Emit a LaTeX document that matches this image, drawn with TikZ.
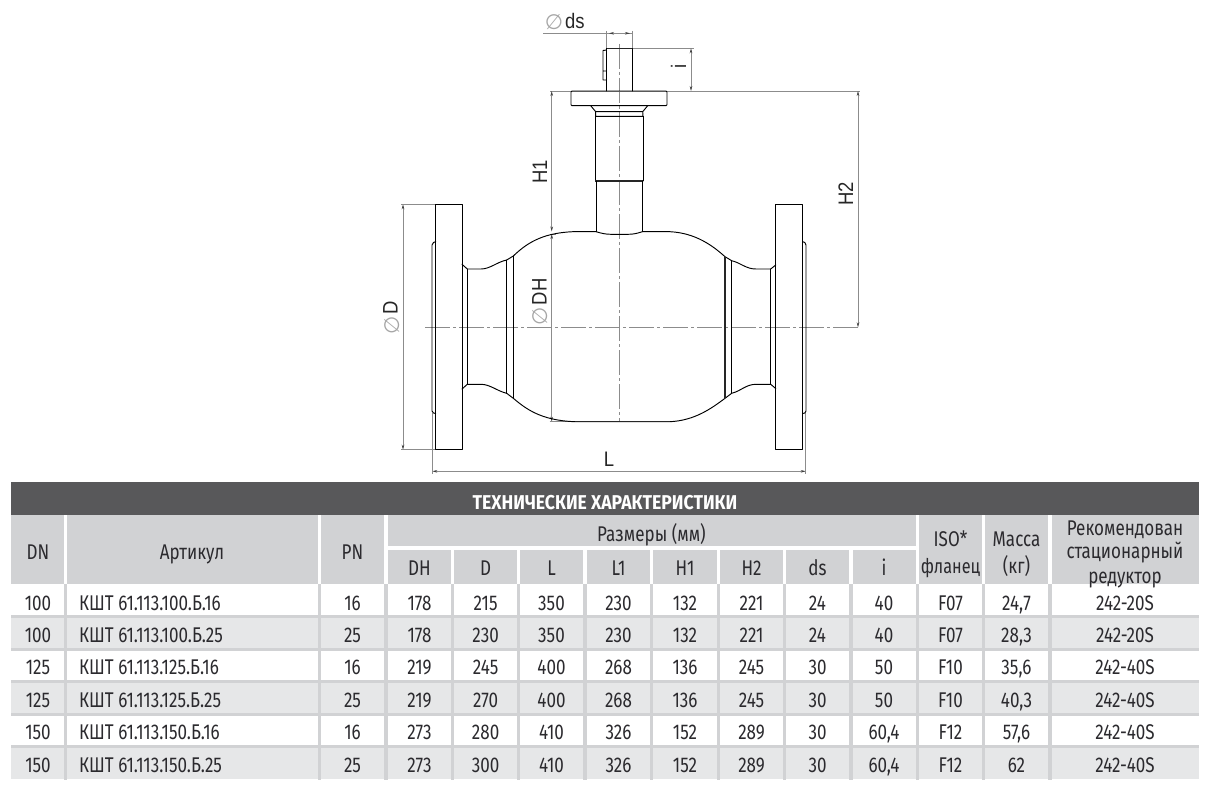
\documentclass[tikz,border=0pt]{standalone}
\usepackage{fontspec}
\setmainfont{Fira Sans}[FakeStretch=0.8]
\newfontfamily\titlefont{Fira Sans}[FakeStretch=0.88]
\newfontfamily\dimfont{Liberation Sans}[FakeStretch=0.88]
\newfontfamily\symfont{DejaVu Sans}
\usetikzlibrary{arrows.meta}
\definecolor{barcol}{HTML}{58585A}
\definecolor{headcol}{HTML}{D1D2D4}
\definecolor{altcol}{HTML}{E6E7E8}
\definecolor{inkcol}{HTML}{2B2A2E}
\definecolor{dimcol}{HTML}{8C8C8C}
\tikzset{
  outline/.style={draw=black,line width=0.95pt,line join=round,line cap=round},
  heavy/.style={draw=black!85,line width=1.5pt},
  dimline/.style={draw=dimcol,line width=0.65pt},
  dimarrow/.style={dimline,{Stealth[length=5pt,width=2.6pt,black!75]}-{Stealth[length=5pt,width=2.6pt,black!75]}},
  tipend/.style={dimline,-{Stealth[length=5pt,width=2.6pt,black!75]}},
  axisline/.style={draw=dimcol,line width=0.65pt,dash pattern=on 25pt off 3pt on 3pt off 3pt},
  dimtext/.style={font=\dimfont\fontsize{21}{21}\selectfont,text=black!85,inner sep=0pt,anchor=base},
  phi/.style={font=\symfont\fontsize{21}{21}\selectfont,text=black!35,inner sep=0pt},
  cell/.style={font=\fontsize{21.3}{22}\selectfont,text=inkcol,inner sep=0pt,anchor=base},
  cellL/.style={cell,anchor=base west},
  headfill/.style={fill=headcol,draw=none},
  title/.style={font=\titlefont\bfseries\fontsize{20}{20}\selectfont,text=white,inner sep=0pt,anchor=base}
}
\begin{document}
\begin{tikzpicture}[x=1pt,y=-1pt]
\useasboundingbox (0,0) rectangle (1217,794);
% ---------- table backgrounds
\fill[barcol] (11,482) rectangle (1199,515);
\foreach \xa/\xb in {11/63.5,67/318,321/384,919/982,985/1048,1052/1199}
  \path[headfill] (\xa,515) rectangle (\xb,584);
\path[headfill] (388,515) rectangle (915.7,546);
\foreach \xa/\xb in {388/451,454/517.3,520/583.3,587/650,653/716.7,720/783,786/849,852.7/915.7}
  \path[headfill] (\xa,550) rectangle (\xb,584);
\fill[altcol] (11,618) rectangle (1199,648);
\fill[altcol] (11,683) rectangle (1199,713);
\fill[altcol] (11,748) rectangle (1199,779);
\foreach \ya in {615,648,680,713,745}
  \fill[headcol] (11,\ya) rectangle (1199,\ya+3);
\foreach \xa/\xb in {63.5/67,318/321,384/388,451/454,517.3/520,583.3/587,650/653,716.7/720,783/786,849/852.7,915.7/919,982/985,1048/1052}
  \fill[headcol] (\xa,584) rectangle (\xb,780);
% ---------- table texts
\node[title] (ttl) at (605,509) {ТЕХНИЧЕСКИЕ ХАРАКТЕРИСТИКИ};
\node[cell] (hdn) at (38,559) {DN};
\node[cell] (hart) at (192,559) {Артикул};
\node[cell] (hpn) at (352.5,559) {PN};
\node[cell] (hsize) at (651.5,541) {Размеры (мм)};
\foreach \tx/\cx/\nm in {DH/419.5/a,D/485.6/b,L/551.5/c,L1/618.5/d,H1/685/e,H2/751.5/f,ds/817.5/g,i/884/h}
  \node[cell] (hsub\nm) at (\cx,575.7) {\tx};
\node[cell] (hisoa) at (950.5,546.7) {ISO*};
\node[cell,font=\fontsize{20.3}{22}\selectfont] (hisob) at (950.5,573) {фланец};
\node[cell] (hmasa) at (1016.5,546.7) {Масса};
\node[cell] (hmasb) at (1016.5,573) {(кг)};
\node[cell] (hreca) at (1125,535) {Рекомендован};
\node[cell] (hrecb) at (1125,558.5) {стационарный};
\node[cell] (hrecc) at (1125,583) {редуктор};
\foreach \yb/\cA/\cB/\cC/\cD/\cE/\cF/\cG/\cH/\cI/\cJ/\cK/\cL/\cM/\cN [count=\rn] in {
 610/100/КШТ 61.113.100.Б.16/16/178/215/350/230/132/221/24/40/F07/{24,7}/242-20S,
 642.5/100/КШТ 61.113.100.Б.25/25/178/230/350/230/132/221/24/40/F07/{28,3}/242-20S,
 674.5/125/КШТ 61.113.125.Б.16/16/219/245/400/268/136/245/30/50/F10/{35,6}/242-40S,
 707/125/КШТ 61.113.125.Б.25/25/219/270/400/268/136/245/30/50/F10/{40,3}/242-40S,
 739.5/150/КШТ 61.113.150.Б.16/16/273/280/410/326/152/289/30/{60,4}/F12/{57,6}/242-40S,
 772/150/КШТ 61.113.150.Б.25/25/273/300/410/326/152/289/30/{60,4}/F12/62/242-40S}{
  \node[cell] (dn\rn) at (38,\yb) {\cA};
  \node[cellL] (art\rn) at (79,\yb) {\cB};
  \node[cell] (pn\rn) at (352.5,\yb) {\cC};
  \node[cell] (dh\rn) at (419.5,\yb) {\cD};
  \node[cell] (dd\rn) at (485.6,\yb) {\cE};
  \node[cell] (ll\rn) at (551.5,\yb) {\cF};
  \node[cell] (lo\rn) at (618.5,\yb) {\cG};
  \node[cell] (ho\rn) at (685,\yb) {\cH};
  \node[cell] (ht\rn) at (751.5,\yb) {\cI};
  \node[cell] (ds\rn) at (817.5,\yb) {\cJ};
  \node[cell] (ii\rn) at (884,\yb) {\cK};
  \node[cell] (iso\rn) at (950.5,\yb) {\cL};
  \node[cell] (ma\rn) at (1016.5,\yb) {\cM};
  \node[cell] (red\rn) at (1125,\yb) {\cN};
}
% ---------- dimension and axis lines
\draw[axisline] (619.5,44) -- (619.5,422);
\draw[axisline] (425,327.3) -- (860,327.3);
\draw[dimline] (543,33.3) -- (632.3,33.3);
\draw[dimline] (606.3,31) -- (606.3,48);
\draw[dimline] (632.3,31) -- (632.3,48);
\draw[tipend] (616,33.3) -- (609,33.3);
\draw[tipend] (623,33.3) -- (630,33.3);
\draw[dimline] (632,48.3) -- (694,48.3);
\draw[dimline] (550,91) -- (860,91);
\draw[dimarrow] (691,48.3) -- (691,91);
\draw[dimarrow] (551.7,91) -- (551.7,231.5);
\draw[dimarrow] (551.7,234) -- (551.7,421.7);
\draw[dimline] (549.5,234) -- (556,234);
\draw[dimline] (549.5,421.7) -- (575,421.7);
\draw[dimarrow] (858,91) -- (858,327.3);
\draw[dimarrow] (403,204.3) -- (403,449.7);
\draw[dimline] (401,204.3) -- (436,204.3);
\draw[dimline] (401,449.7) -- (436,449.7);
\draw[dimarrow] (432.3,471.3) -- (805.7,471.3);
\draw[dimline] (432.3,413) -- (432.3,473.5);
\draw[dimline] (805.7,413) -- (805.7,473.5);
% ---------- valve: stem
\draw[outline] (606.5,91) -- (606.5,48.3) -- (632,48.3) -- (632,91);
\draw[heavy] (606.5,48.3) -- (632,48.3);
\draw[outline] (603,50.5) -- (606.5,50) (603,50.5) -- (603,80) -- (606.5,80) (603,71) -- (606.5,71);
\draw[outline,rounded corners=1pt] (571,91) rectangle (667,105.7);
\draw[outline] (590.7,105.7) -- (595.7,111.7) -- (642.7,111.7) -- (647.7,105.7);
\draw[outline] (595.7,111.7) -- (595.5,116.3) -- (643,116.3) -- (642.7,111.7);
\draw[outline] (595,116.3) -- (595,181) (643.4,116.3) -- (643.4,181);
\draw[heavy] (595,181) -- (643.4,181);
\draw[outline] (596,181) -- (596,231.7) (642.3,181) -- (642.3,231.7);
% ---------- valve: left flange
\draw[outline] (435.7,204.3) rectangle (462,449.7);
\draw[outline] (435.7,241.7) -- (433.5,242.5) -- (432,245) -- (432,411) -- (433.5,413) -- (435.7,413.5);
% ---------- valve: right flange
\draw[outline] (775.7,204.3) rectangle (802.7,449.7);
\draw[outline] (802.7,241.7) -- (804.8,242.5) -- (806,245) -- (806,411) -- (804.8,413) -- (802.7,413.5);
% ---------- valve: body outline
\draw[outline]
  (462,264.3) -- (467.3,269) -- (481,269)
  .. controls (490,269) and (497,262) .. (506.7,260)
  -- (513.3,256)
  .. controls (525,245) and (540,233) .. (573,231.7)
  -- (596,231.7)
  .. controls (602,233.5) and (606,234.3) .. (611,234.3)
  -- (628,234.3)
  .. controls (633,234.3) and (637,233.5) .. (642.3,231.7)
  -- (670,231.7)
  .. controls (695,233) and (712,245) .. (725,256.7)
  -- (731.7,260.7)
  .. controls (741,263) and (746,269) .. (756,269)
  -- (770.7,269) -- (775.7,265);
\draw[outline]
  (462,389) -- (467.3,384.3) -- (481,384.3)
  .. controls (490,384.3) and (497,391) .. (506.7,393.3)
  -- (513.3,398.3)
  .. controls (525,408) and (540,420.5) .. (575,421.7)
  -- (670,421.7)
  .. controls (695,420.5) and (712,408) .. (725,398.3)
  -- (731.7,393.3)
  .. controls (741,391) and (746,384.3) .. (756,384.3)
  -- (770.7,384.3) -- (775.7,388.5);
\draw[heavy] (575,421.7) -- (670,421.7);
\draw[outline] (467.3,269) -- (467.3,384.3);
\draw[outline] (506.7,260) -- (506.7,393.3);
\draw[outline] (513.3,256) -- (513.3,398.3);
\draw[heavy] (725,256.7) -- (725,398.3);
\draw[outline] (731.7,260.7) -- (731.7,393.3);
\draw[outline] (770.7,269) -- (770.7,384.3);
% ---------- dimension labels
\node[phi] (phids) at (554,22) {∅};
\node[dimtext,anchor=base west] (lds) at (565,28.8) {ds};
\node[dimtext,rotate=90] (li) at (686,66.7) {i};
\node[dimtext,rotate=90] (lho) at (547,172) {H1};
\node[dimtext,rotate=90] (lht) at (853,194) {H2};
\node[dimtext,rotate=90] (ldh) at (546.5,291.7) {DH};
\node[phi,rotate=90] (phidh) at (540,316.7) {∅};
\node[dimtext,rotate=90] (ld) at (397.5,307.7) {D};
\node[phi,rotate=90] (phid) at (391.7,325) {∅};
\node[dimtext] (ll) at (609,466.5) {L};
\end{tikzpicture}
\end{document}
